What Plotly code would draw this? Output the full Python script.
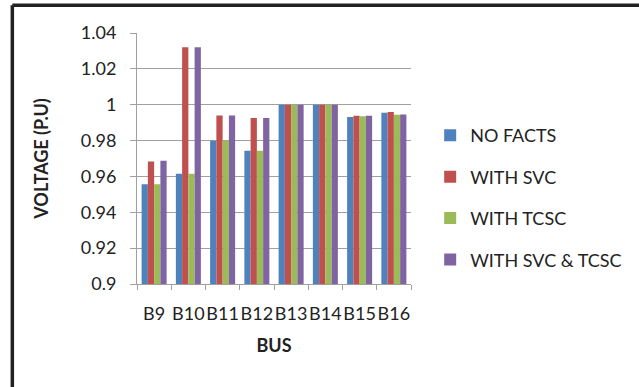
import plotly.graph_objects as go

buses = ["B9", "B10", "B11", "B12", "B13", "B14", "B15", "B16"]
no_facts = [0.9557, 0.9615, 0.9799, 0.9743, 1.0, 1.0, 0.9931, 0.9955]
with_svc = [0.9683, 1.0320, 0.9940, 0.9926, 1.0, 1.0, 0.9939, 0.9959]
with_tcsc = [0.9557, 0.9615, 0.9800, 0.9743, 1.0, 1.0, 0.9935, 0.9944]
with_svc_tcsc = [0.9687, 1.0320, 0.9940, 0.9926, 1.0, 1.0, 0.9939, 0.9945]

series = [
    ("NO FACTS", no_facts, "#4F81BD"),
    ("WITH SVC", with_svc, "#C0504D"),
    ("WITH TCSC", with_tcsc, "#9BBB59"),
    ("WITH SVC & TCSC", with_svc_tcsc, "#8064A2"),
]

FONT = "Lato"
TXT = "#222222"
FS = 18

fig = go.Figure()
for i, (name, vals, color) in enumerate(series):
    fig.add_trace(go.Bar(
        x=buses, y=vals, name=name, marker=dict(color=color, line_width=0),
        legendgroup=str(i),
    ))

fig.update_layout(
    width=639, height=387,
    margin=dict(l=137, r=228, t=33, b=103),
    paper_bgcolor="white", plot_bgcolor="white",
    barmode="group", bargap=0.27, bargroupgap=0,
    font=dict(family=FONT, size=FS, color=TXT),
    showlegend=True,
    legend=dict(
        x=1.07, xanchor="left", y=0.665, yanchor="top",
        traceorder="grouped", tracegroupgap=15,
        font=dict(family=FONT, size=FS, color=TXT),
        itemwidth=30, bgcolor="rgba(0,0,0,0)",
    ),
    xaxis=dict(
        type="category",
        showline=True, linecolor="#a0a0a0", linewidth=1,
        ticks="outside", tickson="boundaries", ticklen=5, tickcolor="#a0a0a0",
        tickangle=0, ticklabelstandoff=13,
        tickfont=dict(family=FONT, size=FS, color=TXT),
        title=dict(text="<b>BUS</b>", font=dict(family=FONT, size=FS, color=TXT), standoff=16),
    ),
    yaxis=dict(
        range=[0.9, 1.04], dtick=0.02, tickformat="~g",
        showline=True, linecolor="#a0a0a0", linewidth=1,
        showgrid=True, gridcolor="#a0a0a0", gridwidth=1,
        ticks="outside", ticklen=6, tickcolor="#a0a0a0",
        ticklabelstandoff=10,
        tickfont=dict(family=FONT, size=FS, color=TXT),
        title=dict(text="<b>VOLTAGE (P.U)</b>", font=dict(family=FONT, size=FS, color=TXT), standoff=27),
        zeroline=False,
    ),
    shapes=[
        # outer frame: left and top edges
        dict(type="line", xref="paper", yref="paper", x0=-0.455, x1=1.9, y0=1.111, y1=1.111,
             line=dict(color="#222222", width=3.5)),
        dict(type="line", xref="paper", yref="paper", x0=-0.455, x1=-0.455, y0=1.111, y1=-0.5,
             line=dict(color="#222222", width=3.5)),
    ],
)

fig.write_html("out.html")
